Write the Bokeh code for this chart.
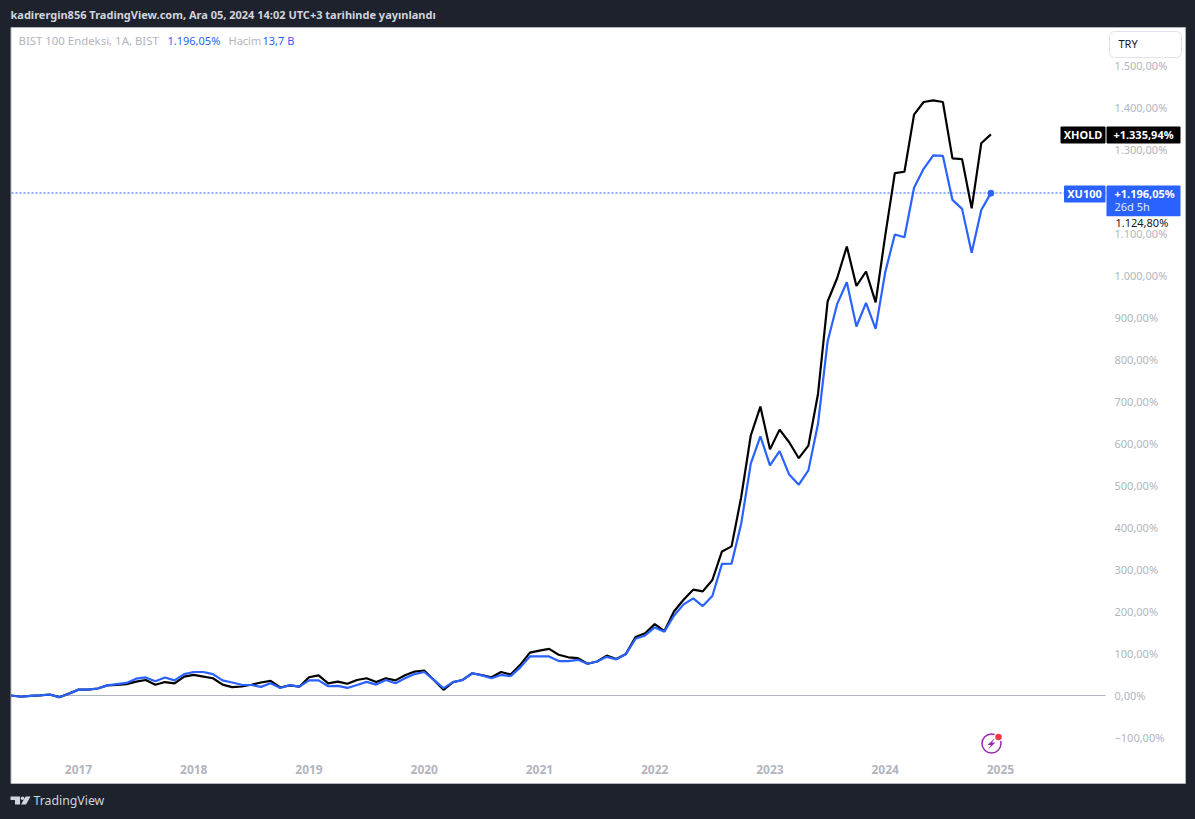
from bokeh.plotting import figure
from bokeh.embed import file_html
from bokeh.resources import INLINE
from bokeh.models import BoxAnnotation, Label, PolyAnnotation, FixedTicker, Range1d

year_labels = ["2017", "2018", "2019", "2020", "2021", "2022", "2023", "2024", "2025"]
year_months = [7, 19, 31, 43, 55, 67, 79, 91, 103]
y_ticks = [-100, 0, 100, 200, 300, 400, 500, 600, 700, 800, 900, 1000, 1100, 1200, 1300, 1400, 1500]
y_labels = ["−100,00%", "0,00%", "100,00%", "200,00%", "300,00%", "400,00%", "500,00%", "600,00%", "700,00%",
            "800,00%", "900,00%", "1.000,00%", "1.100,00%", "1.200,00%", "1.300,00%", "1.400,00%", "1.500,00%"]

xu100 = [0, -3, -1, 0.5, 2.4, -4, 4, 14, 14, 16.7, 24, 27, 30, 40, 43, 34, 43, 36, 51, 56, 56, 51, 36, 31, 25.5, 25,
         20.6, 29, 18, 24.6, 21, 36, 36, 22, 23, 18, 25, 32.5, 26, 37, 29, 41, 51, 56, 37, 17.5, 32, 37, 53, 48, 41,
         49, 46, 67, 93, 93, 93, 82, 82, 85, 75.5, 81, 92, 86, 99, 135, 143, 162, 152, 190, 217, 231, 213, 237, 313.5,
         314, 409, 552, 617, 548, 582, 526, 502, 536, 647, 843, 932.5, 984, 878.6, 935, 873, 1008, 1097.6, 1091, 1209,
         1254, 1286, 1285, 1180, 1158.6, 1054, 1156, 1196.05]
xhold = [0, -3, -1, 0.5, 2.4, -4, 4.5, 14, 14, 16.7, 24, 25.5, 27, 33, 37, 25.5, 32, 29, 45, 49, 45, 41, 26, 20, 21.4,
         25.5, 31, 35, 19, 24, 21, 43.5, 48, 29, 33, 28, 37, 41, 32, 41, 36, 48, 57, 59.5, 37, 13.5, 32, 37, 53, 48.5,
         43.5, 56, 50, 73, 102, 107, 111, 97, 91, 89, 75.5, 81, 95, 87, 99, 139, 148, 170, 153, 200, 228, 252, 248,
         275, 343, 355, 472, 619, 688, 586, 633, 603, 565, 595, 718, 938, 994, 1069, 975, 1009.5, 936, 1095, 1243.6,
         1247, 1383, 1413, 1417, 1413, 1279, 1277, 1160, 1315, 1335.94]
months = list(range(len(xu100)))

DARK = "#1e222d"
BLUE = "#2962ff"
GREY = "#b2b5be"
FONT = "Noto Sans"

MONTH_PX = 9.604


def dx(px):
    return 7 + (px - 78) / MONTH_PX


def dy(py):
    return (695 - py) / 0.42


p = figure(width=1195, height=819, output_backend="svg", toolbar_location=None,
           x_range=Range1d(dx(0), dx(1195)), y_range=Range1d(dy(819), dy(0)), y_axis_location="right",
           min_border_left=0, min_border_right=0, min_border_top=0, min_border_bottom=0,
           border_fill_color=DARK, background_fill_color=DARK, outline_line_color=None)
p.grid.visible = False

for ax in (p.xaxis[0], p.yaxis[0]):
    ax.axis_line_color = None
    ax.major_tick_line_color = None
    ax.minor_tick_line_color = None
    ax.major_label_text_color = GREY
    ax.major_label_text_font = FONT
    ax.major_label_text_font_size = "11px"
p.xaxis[0].ticker = FixedTicker(ticks=year_months)
p.xaxis[0].major_label_overrides = dict(zip(year_months, year_labels))
p.xaxis[0].major_label_standoff = 3
p.xaxis[0].major_label_text_font_style = "bold"
p.xaxis[0].major_label_text_font_size = "12px"
p.xaxis[0].fixed_location = dy(755)
p.yaxis[0].ticker = FixedTicker(ticks=y_ticks)
p.yaxis[0].major_label_overrides = dict(zip(y_ticks, y_labels))
p.yaxis[0].major_label_standoff = 3
p.yaxis[0].fixed_location = dx(1105)


def box(l, r, t, b, fill, line=None, radius=0, level="annotation"):
    p.add_layout(BoxAnnotation(left=l, right=r, top=t, bottom=b, left_units="canvas", right_units="canvas",
                               top_units="canvas", bottom_units="canvas", fill_color=fill, fill_alpha=1,
                               line_color=line, line_alpha=1 if line else 0, line_width=1, border_radius=radius,
                               level=level, editable=False))


def text(px, py, s, color, size="11px", style="normal", align="left"):
    p.add_layout(Label(x=px, y=py - 1, x_units="canvas", y_units="canvas", text=s, text_color=color, text_font=FONT,
                       text_font_size=size, text_font_style=style, text_align=align, text_baseline="middle"))


def poly(pts, fill):
    p.add_layout(PolyAnnotation(xs=[a for a, _ in pts], ys=[b for _, b in pts], xs_units="canvas", ys_units="canvas",
                                fill_color=fill, fill_alpha=1, line_color=None, line_alpha=0))


box(10.5, 1185, 27, 783, "white", line=GREY, level="underlay")

p.line([dx(11), dx(1105)], [0, 0], line_color=GREY, line_width=1)
p.line([dx(11), dx(1105)], [dy(192.5), dy(192.5)], line_color=BLUE, line_width=1.2, line_dash="2 2")

p.line(months, xhold, line_color="#000000", line_width=2.2)
p.line(months, xu100, line_color=BLUE, line_width=2.2)
p.scatter([months[-1]], [xu100[-1]], size=6, fill_color=BLUE, line_color=BLUE)

# header and legend
text(10, 15, "kadirergin856 TradingView.com, Ara 05, 2024 14:02 UTC+3 tarihinde yayınlandı", "#d1d4dc", style="bold")
text(18, 41, "BIST 100 Endeksi, 1A, BIST", GREY, size="11.4px")
text(167, 41, "1.196,05%", BLUE)
text(228, 41, "Hacim", GREY)
text(262, 41, "13,7 B", BLUE)

# currency button
box(1106, 1184, 28, 60, "white")
box(1109, 1181, 31, 57, "white", line="#e0e3eb", radius=5)
text(1118, 44, "TRY", "#131722")

# price tags
box(1060, 1105, 126, 143, "#000000", radius=1)
box(1106, 1180, 126, 143, "#000000", radius=1)
text(1082.5, 134.5, "XHOLD", "white", style="bold", align="center")
text(1143, 134.5, "+1.335,94%", "white", style="bold", align="center")
box(1063.5, 1105, 185, 202, BLUE, radius=1)
box(1106, 1180, 185, 216, BLUE, radius=1)
text(1084, 193.5, "XU100", "white", style="bold", align="center")
text(1114, 193.5, "+1.196,05%", "white", style="bold")
text(1114, 207, "26d 5h", "#e3e8ff")
box(1106, 1180, 216, 228, "white")
text(1115, 223, "1.124,80%", "#131722")

# flash icon
p.scatter([dx(991)], [dy(743)], size=19, fill_color="white", line_color="#9c27b0", line_width=1.5)
poly([(994.5, 737.5), (987, 744.5), (990.5, 744.5), (987.5, 749), (995, 742), (991.5, 742)], "#9c27b0")
p.scatter([dx(998)], [dy(736.5)], size=8, fill_color="#f23645", line_color="white", line_width=1.5)

# TradingView logo
LOGO = "#d1d4dc"
poly([(10, 796), (19.5, 796), (19.5, 804), (14.5, 804), (14.5, 799.5), (10, 799.5)], LOGO)
poly([(25, 796), (30, 796), (25.5, 804), (20.5, 804)], LOGO)
box(20.2, 23.8, 796, 799.6, LOGO, radius=2)
text(33, 801, "TradingView", LOGO, size="12.3px")

html = file_html(p, INLINE).replace("</head>", "<style>html,body{background:#1e222d;overflow:hidden}</style></head>")
open("out.html", "w", encoding="utf-8").write(html)
